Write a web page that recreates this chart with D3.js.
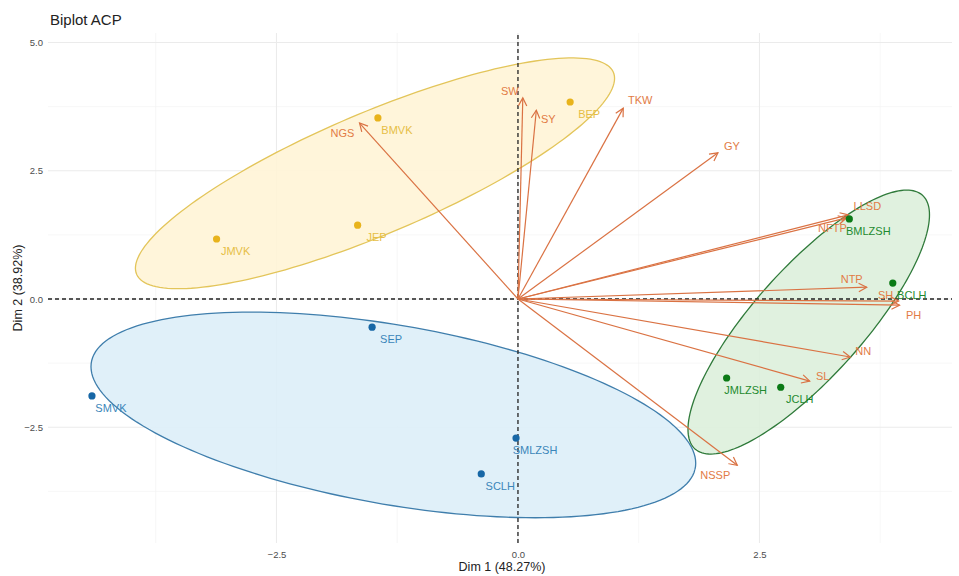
<!DOCTYPE html>
<html>
<head>
<meta charset="utf-8">
<script src="https://cdn.jsdelivr.net/npm/d3@7/dist/d3.min.js"></script>
<style>
  html, body { margin: 0; padding: 0; background: #fff; }
  svg { display: block; font-family: "Liberation Sans", Arial, sans-serif; }
</style>
</head>
<body>
<svg id="chart" width="959" height="576"></svg>
<script>
// Individuals (PCA scores on Dim 1 / Dim 2) grouped in three clusters
const indNames  = ["JMVK", "JEP", "BMVK", "BEP",
                   "SMVK", "SEP", "SMLZSH", "SCLH",
                   "BMLZSH", "BCLH", "JMLZSH", "JCLH"];
const indGroup  = ["A", "A", "A", "A", "B", "B", "B", "B", "C", "C", "C", "C"];
const indDim1   = [-3.12, -1.66, -1.45, 0.54, -4.41, -1.51, -0.02, -0.38, 3.43, 3.88, 2.16, 2.72];
const indDim2   = [1.17, 1.44, 3.53, 3.84, -1.89, -0.55, -2.71, -3.41, 1.56, 0.31, -1.54, -1.72];

// Variables (loadings drawn as arrows from the origin)
const varNames  = ["SW", "SY", "TKW", "GY", "NGS", "LLSD", "NFTP", "NTP", "SH", "PH", "NN", "SL", "NSSP"];
const varDim1   = [0.05, 0.19, 1.09, 2.07, -1.64, 3.42, 3.40, 3.61, 3.94, 3.95, 3.44, 3.02, 2.27];
const varDim2   = [3.92, 3.68, 3.72, 2.85, 3.43, 1.64, 1.58, 0.23, -0.04, -0.12, -1.13, -1.60, -3.24];

// Group ellipses: centre and two conjugate semi-axes, in Dim 1 / Dim 2 units
const ellGroup  = ["A", "B", "C"];
const ellCenter = [[-1.48, 2.45], [-1.29, -2.26], [3.01, -0.45]];
const ellAxisU  = [[2.48, 1.85], [3.13, -0.94], [1.25, 2.09]];
const ellAxisV  = [[0, 1.28], [0, 1.77], [0, 1.50]];

// Axis ticks
const majorTicks = [-2.5, 0, 2.5];
const yMajorTicks = [-2.5, 0, 2.5, 5];
const minorTicks = [-3.75, -1.25, 1.25, 3.75];

const svg = d3.select("#chart");
const x = d3.scaleLinear().domain([-4.865, 4.493]).range([48, 952]);
const y = d3.scaleLinear().domain([-4.756, 5.185]).range([543, 33]);

const groupStyle = {
  A: { point: "#E8B31C", label: "#E6BE45", stroke: "#E3C55A", fill: "#FFF4D6" },
  B: { point: "#1767A6", label: "#3B86BA", stroke: "#3F7EAC", fill: "#DDEEF8" },
  C: { point: "#0B7A16", label: "#1E8A2E", stroke: "#2F7A3A", fill: "#DDF0DB" }
};
const varColor = "#DA7243";
const varLabelColor = "#E27B45";

// label offsets (px) for the variable names at arrow tips
const varLabelOffset = {
  SW: [-13, -7], SY: [12, 9], TKW: [17, -8], GY: [14, -7], NGS: [-17, 10],
  LLSD: [19, -9], NFTP: [-14, 10], NTP: [-15, -8], SH: [-13, -6], PH: [14, 10],
  NN: [13, -6], SL: [13, -5], NSSP: [-22, 10]
};

// ---- grid ----
const grid = svg.append("g");
const [x0, x1] = x.range(), [y0, y1] = y.range();
grid.selectAll(".vminor").data(minorTicks).join("line")
  .attr("x1", d => x(d)).attr("x2", d => x(d)).attr("y1", y0).attr("y2", y1)
  .attr("stroke", "#F2F2F2").attr("stroke-width", 0.6);
grid.selectAll(".hminor").data(minorTicks).join("line")
  .attr("y1", d => y(d)).attr("y2", d => y(d)).attr("x1", x0).attr("x2", x1)
  .attr("stroke", "#F2F2F2").attr("stroke-width", 0.6);
grid.selectAll(".vmajor").data(majorTicks).join("line")
  .attr("x1", d => x(d)).attr("x2", d => x(d)).attr("y1", y0).attr("y2", y1)
  .attr("stroke", "#EBEBEB").attr("stroke-width", 1.1);
grid.selectAll(".hmajor").data(yMajorTicks).join("line")
  .attr("y1", d => y(d)).attr("y2", d => y(d)).attr("x1", x0).attr("x2", x1)
  .attr("stroke", "#EBEBEB").attr("stroke-width", 1.1);

// ---- ellipses ----
const tSteps = d3.range(0, 2 * Math.PI + 0.001, Math.PI / 90);
const ellLine = d3.line().x(d => x(d[0])).y(d => y(d[1])).curve(d3.curveLinearClosed);
ellGroup.forEach((g, i) => {
  const c = ellCenter[i], u = ellAxisU[i], v = ellAxisV[i];
  const pts = tSteps.map(t => [c[0] + u[0] * Math.cos(t) + v[0] * Math.sin(t),
                               c[1] + u[1] * Math.cos(t) + v[1] * Math.sin(t)]);
  svg.append("path").attr("d", ellLine(pts))
    .attr("fill", groupStyle[g].fill).attr("fill-opacity", 0.9)
    .attr("stroke", groupStyle[g].stroke).attr("stroke-width", 1.3);
});

// ---- origin reference lines ----
svg.append("line").attr("x1", x0).attr("x2", x1).attr("y1", y(0)).attr("y2", y(0))
  .attr("stroke", "#222").attr("stroke-width", 1.3).attr("stroke-dasharray", "4,3");
svg.append("line").attr("x1", x(0)).attr("x2", x(0)).attr("y1", y0).attr("y2", y1)
  .attr("stroke", "#222").attr("stroke-width", 1.3).attr("stroke-dasharray", "4,3");

// ---- variable arrows ----
svg.append("defs").append("marker")
  .attr("id", "arrowHead").attr("viewBox", "-10 -6 12 12")
  .attr("refX", 0).attr("refY", 0).attr("markerWidth", 12).attr("markerHeight", 12)
  .attr("markerUnits", "userSpaceOnUse").attr("orient", "auto")
  .append("path").attr("d", "M-8,-4.2L0,0L-8,4.2")
  .attr("fill", "none").attr("stroke", varColor).attr("stroke-width", 1.2);

const vars = varNames.map((n, i) => ({ name: n, d1: varDim1[i], d2: varDim2[i] }));
svg.append("g").selectAll("line").data(vars).join("line")
  .attr("x1", x(0)).attr("y1", y(0))
  .attr("x2", d => x(d.d1)).attr("y2", d => y(d.d2))
  .attr("stroke", varColor).attr("stroke-width", 1.2)
  .attr("marker-end", "url(#arrowHead)");

// soft backdrop behind the NSSP label
const nssp = vars.find(d => d.name === "NSSP");
svg.append("rect")
  .attr("x", x(nssp.d1) + varLabelOffset.NSSP[0] - 20).attr("y", y(nssp.d2) + varLabelOffset.NSSP[1] - 11)
  .attr("width", 40).attr("height", 22).attr("rx", 8)
  .attr("fill", "#fff").attr("opacity", 0.75);

svg.append("g").selectAll("text").data(vars).join("text")
  .attr("x", d => x(d.d1) + varLabelOffset[d.name][0])
  .attr("y", d => y(d.d2) + varLabelOffset[d.name][1])
  .attr("text-anchor", "middle").attr("dominant-baseline", "central")
  .attr("font-size", 11).attr("fill", varLabelColor)
  .text(d => d.name);

// ---- individuals ----
const inds = indNames.map((n, i) => ({ name: n, g: indGroup[i], d1: indDim1[i], d2: indDim2[i] }));
svg.append("g").selectAll("circle").data(inds).join("circle")
  .attr("cx", d => x(d.d1)).attr("cy", d => y(d.d2)).attr("r", 3.6)
  .attr("fill", d => groupStyle[d.g].point);
svg.append("g").selectAll("text").data(inds).join("text")
  .attr("x", d => x(d.d1) + 19).attr("y", d => y(d.d2) + 12)
  .attr("text-anchor", "middle").attr("dominant-baseline", "central")
  .attr("font-size", 11).attr("fill", d => groupStyle[d.g].label)
  .text(d => d.name);

// ---- axes ----
const fmt = d3.format(".1f");
const xAxis = svg.append("g").attr("transform", `translate(0,${y0})`)
  .call(d3.axisBottom(x).tickValues(majorTicks).tickSize(0).tickPadding(8).tickFormat(fmt));
const yAxis = svg.append("g").attr("transform", `translate(${x0},0)`)
  .call(d3.axisLeft(y).tickValues(yMajorTicks).tickSize(0).tickPadding(5).tickFormat(fmt));
[xAxis, yAxis].forEach(a => {
  a.select(".domain").remove();
  a.selectAll("text").attr("font-size", 9.5).attr("fill", "#4D4D4D")
    .attr("font-family", "'Liberation Sans', Arial, sans-serif");
});

svg.append("text").attr("x", (x0 + x1) / 2 + 2).attr("y", 571)
  .attr("text-anchor", "middle").attr("font-size", 12.5).attr("fill", "#222")
  .text("Dim 1 (48.27%)");
svg.append("text").attr("transform", `translate(18,${(y0 + y1) / 2}) rotate(-90)`)
  .attr("text-anchor", "middle").attr("dominant-baseline", "central")
  .attr("font-size", 12.5).attr("fill", "#222")
  .text("Dim 2 (38.92%)");
svg.append("text").attr("x", 50).attr("y", 25)
  .attr("font-size", 15).attr("fill", "#222")
  .text("Biplot ACP");
</script>
</body>
</html>
